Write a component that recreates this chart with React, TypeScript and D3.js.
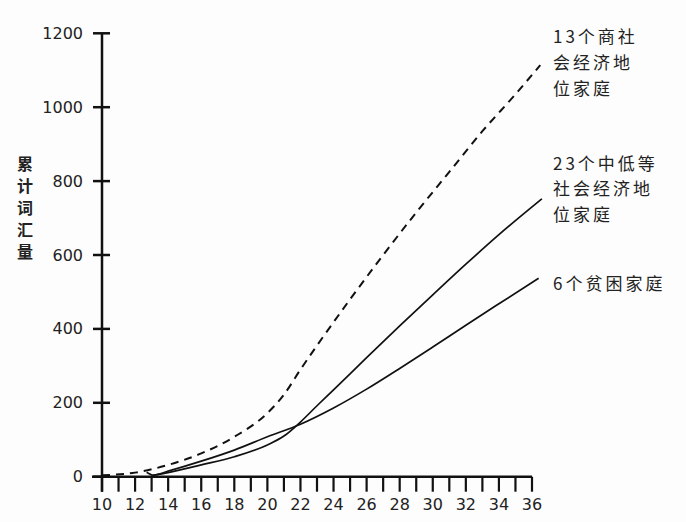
import React from "react";
import * as d3 from "d3";

// months of age -> cumulative vocabulary
const highMonths = [10, 12, 14, 16, 18, 20, 21, 22, 23, 25, 27, 29, 31, 33, 35, 36.5];
const highValues = [4, 11, 32, 63, 108, 172, 222, 290, 355, 480, 600, 715, 825, 935, 1035, 1114];

const midMonths = [13.1, 14, 16, 18, 20, 21, 22, 23, 24, 26, 28, 30, 32, 34, 36.6];
const midValues = [4, 11, 32, 54, 86, 110, 148, 192, 235, 322, 408, 492, 575, 655, 752];

const lowMonths = [12.7, 13.1, 14, 16, 18, 20, 22, 24, 26, 28, 30, 32, 34, 36.4];
const lowValues = [12, 4, 15, 42, 72, 108, 142, 186, 237, 293, 351, 410, 468, 537];

const xMinorTicks = d3.range(10, 37, 1);
const xLabelTicks = d3.range(10, 37, 2);
const yTicks = [0, 200, 400, 600, 800, 1000, 1200];

const yTitle = ["累", "计", "词", "汇", "量"];
const labelHigh = ["13个商社", "会经济地", "位家庭"];
const labelMid = ["23个中低等", "社会经济地", "位家庭"];
const labelLow = ["6个贫困家庭"];

const W = 686;
const H = 522;

export default function App() {
  const x = d3.scaleLinear().domain([10, 36]).range([102, 532]);
  const y = d3.scaleLinear().domain([0, 1200]).range([476.7, 33.3]);

  const line = d3
    .line<[number, number]>()
    .x((d) => x(d[0]))
    .y((d) => y(d[1]))
    .curve(d3.curveMonotoneX);

  const high = highMonths.map((m, i) => [m, highValues[i]] as [number, number]);
  const mid = midMonths.map((m, i) => [m, midValues[i]] as [number, number]);
  const low = lowMonths.map((m, i) => [m, lowValues[i]] as [number, number]);

  const x0 = x(10);
  const yBase = y(0);
  const ink = "#111";
  const numFont = "'DejaVu Sans', sans-serif";
  const cjkFont = "'Noto Sans CJK SC', sans-serif";

  return (
    <svg
      width={W}
      height={H}
      viewBox={`0 0 ${W} ${H}`}
      style={{ position: "absolute", left: 0, top: 0, background: "#fdfdfd" }}
    >
      <rect x={0} y={0} width={W} height={H} fill="#fdfdfd" />
      {/* y axis */}
      <line x1={x0} x2={x0} y1={y(1200)} y2={yBase + 15} stroke={ink} strokeWidth={2.5} />
      {yTicks.map((t) => (
        <g key={"y" + t}>
          <line x1={x0 - 9} x2={x0 + 8} y1={y(t)} y2={y(t)} stroke={ink} strokeWidth={2.5} />
          <text
            x={83}
            y={y(t)}
            textAnchor="end"
            dominantBaseline="central"
            fontFamily={numFont}
            fontSize={16}
            fill="#222"
          >
            {t}
          </text>
        </g>
      ))}
      {/* x axis */}
      <line x1={x0 - 10} x2={x(36)} y1={yBase} y2={yBase} stroke={ink} strokeWidth={2.5} />
      {xMinorTicks.map((t) => (
        <line key={"xt" + t} x1={x(t)} x2={x(t)} y1={yBase} y2={yBase + 15} stroke={ink} strokeWidth={2.2} />
      ))}
      {xLabelTicks.map((t) => (
        <text
          key={"xl" + t}
          x={x(t)}
          y={510}
          textAnchor="middle"
          fontFamily={numFont}
          fontSize={16}
          fill="#222"
        >
          {t}
        </text>
      ))}
      {/* y title */}
      {yTitle.map((c, i) => (
        <text
          key={"yt" + i}
          x={25}
          y={163 + i * 22}
          textAnchor="middle"
          dominantBaseline="central"
          fontFamily={cjkFont}
          fontSize={16}
          fontWeight={700}
          fill="#222"
        >
          {c}
        </text>
      ))}
      {/* lines */}
      <path d={line(high) || ""} fill="none" stroke={ink} strokeWidth={2} strokeDasharray="8 6" />
      <path d={line(mid) || ""} fill="none" stroke={ink} strokeWidth={1.7} />
      <path d={line(low) || ""} fill="none" stroke={ink} strokeWidth={1.7} />
      {/* annotations */}
      {labelHigh.map((s, i) => (
        <text key={"lh" + i} x={553} y={35 + i * 26} dominantBaseline="central" fontFamily={cjkFont} fontSize={17} letterSpacing={3} fill="#222">
          {s}
        </text>
      ))}
      {labelMid.map((s, i) => (
        <text key={"lm" + i} x={553} y={162 + i * 25.5} dominantBaseline="central" fontFamily={cjkFont} fontSize={17} letterSpacing={3} fill="#222">
          {s}
        </text>
      ))}
      {labelLow.map((s, i) => (
        <text key={"ll" + i} x={553} y={282 + i * 26} dominantBaseline="central" fontFamily={cjkFont} fontSize={17} letterSpacing={3} fill="#222">
          {s}
        </text>
      ))}
    </svg>
  );
}
